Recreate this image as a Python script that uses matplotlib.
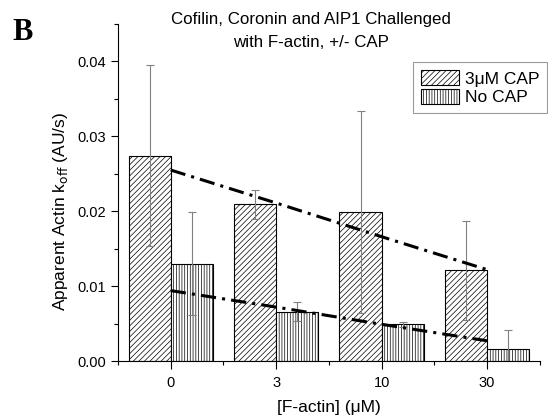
import numpy as np
import matplotlib
matplotlib.use('Agg')
import matplotlib.pyplot as plt
from matplotlib.ticker import MultipleLocator

# Data
concentrations = ['0', '3', '10', '30']
cap_values = [0.0274, 0.0209, 0.0199, 0.0121]
cap_errors = [0.0121, 0.0019, 0.0135, 0.0066]
nocap_values = [0.0130, 0.0066, 0.0049, 0.0016]
nocap_errors = [0.0069, 0.0013, 0.0003, 0.0025]
cap_trend = [0.0255, 0.0211, 0.0166, 0.0122]
nocap_trend = [0.0094, 0.0072, 0.0049, 0.0027]

plt.rcParams['font.family'] = ['Liberation Sans', 'DejaVu Sans']
plt.rcParams['hatch.linewidth'] = 0.5

fig = plt.figure(figsize=(5.48, 4.19), dpi=100)
ax = fig.add_axes([0.2153, 0.1384, 0.7697, 0.8043])

x = np.arange(len(concentrations))
w = 0.4

ax.bar(x - w / 2, cap_values, w, color='white', edgecolor='black',
       linewidth=0.8, hatch='//////', label='3\u03bcM CAP', zorder=2)
ax.bar(x + w / 2, nocap_values, w, color='white', edgecolor='black',
       linewidth=0.8, hatch='||||||', label='No CAP', zorder=2)

ax.errorbar(x - w / 2, cap_values, yerr=cap_errors, fmt='none',
            ecolor='#808080', elinewidth=0.8, capsize=3, capthick=0.8, zorder=3)
ax.errorbar(x + w / 2, nocap_values, yerr=nocap_errors, fmt='none',
            ecolor='#808080', elinewidth=0.8, capsize=3, capthick=0.8, zorder=3)

# dash-dot trend lines
ax.plot(x, cap_trend, color='black', lw=2.2, dashes=(5, 2, 1, 2), zorder=4)
ax.plot(x, nocap_trend, color='black', lw=2.2, dashes=(5, 2, 1, 2), zorder=4)

ax.set_xlim(-0.5, 3.5)
ax.set_ylim(0, 0.045)
ax.set_xticks(x)
ax.set_xticklabels(concentrations)
ax.xaxis.set_minor_locator(MultipleLocator(1, offset=0.5))
ax.set_yticks([0, 0.01, 0.02, 0.03, 0.04])
ax.set_yticklabels(['0.00', '0.01', '0.02', '0.03', '0.04'])
ax.yaxis.set_minor_locator(MultipleLocator(0.005))

ax.spines['top'].set_visible(False)
ax.spines['right'].set_visible(False)
ax.tick_params(which='major', direction='out', length=5, width=0.8, labelsize=10.5)
ax.tick_params(axis='x', which='major', length=6, pad=5)
ax.tick_params(which='minor', direction='out', length=3, width=0.8)

ax.set_xlabel('[F-actin] (\u03bcM)', fontsize=12.5)
ax.xaxis.set_label_coords(0.5, -0.116)
ax.set_ylabel('Apparent Actin k$_{\\rm off}$ (AU/s)', fontsize=12.5)
ax.yaxis.set_label_coords(-0.113, 0.445)

fig.text(0.568, 1 - 31 / 419, 'Cofilin, Coronin and AIP1 Challenged\nwith F-actin, +/- CAP',
         fontsize=12.2, ha='center', va='center', linespacing=1.6)

leg = ax.legend(loc='upper right', bbox_to_anchor=(0.999, 1 - 62 / 419),
                bbox_transform=fig.transFigure, fontsize=12.5,
                frameon=True, fancybox=False, edgecolor='#808080',
                handlelength=2.2, handleheight=1.0, handletextpad=0.35,
                labelspacing=0.12, borderpad=0.45, borderaxespad=0)
leg.get_frame().set_linewidth(0.8)

fig.text(0.022, 1 - 33 / 419, 'B', fontsize=22, fontweight='bold',
         family='Liberation Serif', va='center')

fig.savefig('out.png', dpi=100)
